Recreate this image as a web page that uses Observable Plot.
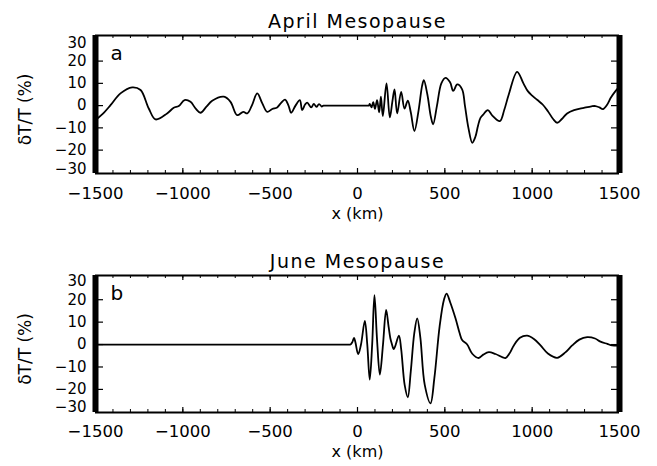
<!DOCTYPE html>
<html>
<head>
<meta charset="utf-8">
<script src="https://cdn.jsdelivr.net/npm/d3@7"></script>
<script src="https://cdn.jsdelivr.net/npm/@observablehq/plot@0.6"></script>
<style>
  body { margin: 0; background: #fff; }
  #chart svg { display: block; }
</style>
</head>
<body>
<div id="chart"></div>
<script>
// ---- data ----
const aprilX = [-1500,-1450,-1414,-1357,-1290,-1242,-1195,-1156,-1090,-1052,-1023,-990,-956,-925,-899,-865,-832,-765,-727,-689,-654,-631,-605,-574,-545,-517,-488,-460,-440,-415,-395,-380,-355,-330,-317,-300,-288,-265,-250,-235,-220,-205,-195,-185,-150,-100,-50,0,30,50,60,65,70,80,90,100,112,124,134,145,166,185,200,212,227,250,269,288,305,326,350,370,380,400,420,433,455,480,504,530,548,571,599,615,635,657,675,690,704,720,746,772,815,840,866,914,950,975,1000,1030,1060,1090,1120,1143,1170,1200,1240,1296,1340,1362,1385,1405,1430,1450,1477,1500];
const aprilY = [-6.5,-3,0.2,5.5,8.2,7,-1.3,-6.2,-3.5,-1,-0.2,2.5,1.7,-1.5,-3.2,-0.5,2.2,4,1.7,-4.3,-2.8,-3.5,0,5.5,1,-2.8,-1.5,-0.8,1,2.7,0,-3.2,0,2.5,-2,0.5,1.3,-0.8,0.8,-0.6,0.7,-0.4,0,0,0,0,0,0,0,0,0,0,0.8,-0.8,1.5,-1.5,2.5,-3,4,-4.7,10,-5.3,2,7.3,-3.5,6.2,-1.3,2.2,-3,-11.4,-2,9,11.4,5,-5,-8.4,0,10,12.5,10.5,6.6,9.5,7.3,0,-10,-16.7,-14,-9,-5.5,-4,-2,-4.5,-7,-2,5,15.2,10,6.5,4.5,2.5,0.5,-2.5,-6,-7.7,-6,-3.5,-2,-1,-0.3,-0.2,-0.8,-1.6,0.5,3.5,6.5,8.5];

const juneX = [-1500,-1200,-900,-600,-300,-150,-90,-60,-45,-40,-30,-20,-12,4,20,42,56,70,84,97,112,128,146,164,178,189,196,208,237,250,270,288,305,325,342,360,385,418,440,470,495,510,530,561,585,599,628,657,694,720,752,790,847,870,895,930,971,1010,1048,1090,1143,1190,1229,1270,1315,1360,1391,1430,1458,1500];
const juneY = [0,0,0,0,0,0,0,0,0,0,1,3,1,-4.3,0,10.6,0,-15.6,0,22,2,-13.4,0,15.5,8,2.5,0.5,-2,4,-2,-18,-23.5,-12,5,11.7,3,-18,-26.2,-15,8,20,22.7,19,11.7,5,2,0,-4.1,-6,-4.5,-3.4,-4.2,-6,-4,-0.4,3,4,2.5,-0.4,-4,-5.9,-3.5,-0.4,2.2,3.3,2.7,1.3,0.3,-0.4,-0.5];

const xTicks = [-1500, -1000, -500, 0, 500, 1000, 1500];
const yTicksInner = [-20, -10, 0, 10, 20];
const titles = ["April Mesopause", "June Mesopause"];
const letters = ["a", "b"];
const xLabel = "x (km)";
const yLabel = "δT/T (%)";

// ---- drawing ----
const FONT = "DejaVu Sans";
const X0 = -1500, X1 = 1500;
const W = 657, ML = 95, MR = 38;
const pxPerKm = (W - ML - MR) / (X1 - X0);

function panel(cfg) {
  const {xs, ys, title, letter, yDomain, height, marginTop, marginBottom,
         dyTop30, dyBottom30, tickPad, xLabDy} = cfg;
  const data = xs.map((x, i) => ({x, y: ys[i]}));
  const [y0, y1] = yDomain;
  const pxPerUnit = (height - marginTop - marginBottom) / (y1 - y0);
  const minor = d3.range(X0, X1 + 1, 100);
  const major = d3.range(X0, X1 + 1, 500);
  const fmt = d => d < 0 ? "\u2212" + Math.abs(d) : String(d);
  const yAxisOpts = {tickSize: 0, tickPadding: 9, fontSize: 15, label: null, tickFormat: fmt};
  const svg = Plot.plot({
    width: W, height, marginLeft: ML, marginRight: MR, marginTop, marginBottom,
    x: {domain: [X0, X1]},
    y: {domain: yDomain},
    style: {fontFamily: FONT, background: "white", color: "black", overflow: "visible"},
    marks: [
      Plot.line(data, {x: "x", y: "y", stroke: "black", strokeWidth: 1.8, curve: "catmull-rom"}),
      // frame
      Plot.ruleY([y0], {stroke: "black", strokeWidth: 2}),
      Plot.ruleY([y1], {stroke: "black", strokeWidth: 2}),
      Plot.ruleX([X0, X1], {stroke: "black", strokeWidth: 6}),
      // inward x ticks (bottom + top)
      Plot.ruleX(minor, {x: d => d, y1: y0, y2: y0 + 3 / pxPerUnit, stroke: "black", strokeWidth: 1}),
      Plot.ruleX(minor, {x: d => d, y1: y1, y2: y1 - 3 / pxPerUnit, stroke: "black", strokeWidth: 1}),
      Plot.ruleX(major, {x: d => d, y1: y0, y2: y0 + 5 / pxPerUnit, stroke: "black", strokeWidth: 1.2}),
      Plot.ruleX(major, {x: d => d, y1: y1, y2: y1 - 5 / pxPerUnit, stroke: "black", strokeWidth: 1.2}),
      // inward y ticks (left + right)
      Plot.ruleY(yTicksInner, {y: d => d, x1: X0, x2: X0 + 8 / pxPerKm, stroke: "black", strokeWidth: 1.2}),
      Plot.ruleY(yTicksInner, {y: d => d, x1: X1, x2: X1 - 8 / pxPerKm, stroke: "black", strokeWidth: 1.2}),
      // y tick labels
      Plot.axisY({...yAxisOpts, ticks: yTicksInner}),
      Plot.axisY({...yAxisOpts, ticks: [30], dy: dyTop30}),
      Plot.axisY({...yAxisOpts, ticks: [-30], dy: dyBottom30}),
      // x tick labels
      Plot.axisX({tickSize: 0, tickPadding: tickPad, fontSize: 16.5, label: null, tickFormat: fmt, ticks: xTicks}),
      // texts
      Plot.text([xLabel], {frameAnchor: "bottom", lineAnchor: "top", dy: xLabDy, fontSize: 16, text: d => d}),
      Plot.text([yLabel], {frameAnchor: "left", textAnchor: "middle", rotate: -90, dx: -70, dy: 5, fontSize: 17, text: d => d}),
      Plot.text([title], {frameAnchor: "top", lineAnchor: "bottom", dy: -8, fontSize: 19, text: d => d}),
      Plot.text([letter], {frameAnchor: "top-left", textAnchor: "start", lineAnchor: "top", dx: 15, dy: 10, fontSize: 20, text: d => d})
    ]
  });
  svg.querySelectorAll("text").forEach(t => {
    if (t.textContent === title) t.setAttribute("letter-spacing", "1.5");
  });
  return svg;
}

const chart = document.getElementById("chart");
chart.appendChild(panel({
  xs: aprilX, ys: aprilY, title: titles[0], letter: letters[0],
  yDomain: [-30.5, 31.5], height: 233, marginTop: 35, marginBottom: 60,
  dyTop30: 4, dyBottom30: -3.5, tickPad: 14, xLabDy: 34
}));
chart.appendChild(panel({
  xs: juneX, ys: juneY, title: titles[1], letter: letters[1],
  yDomain: [-30.3, 30.8], height: 233, marginTop: 42, marginBottom: 54,
  dyTop30: 4, dyBottom30: -4.5, tickPad: 13, xLabDy: 33
}));
</script>
</body>
</html>
